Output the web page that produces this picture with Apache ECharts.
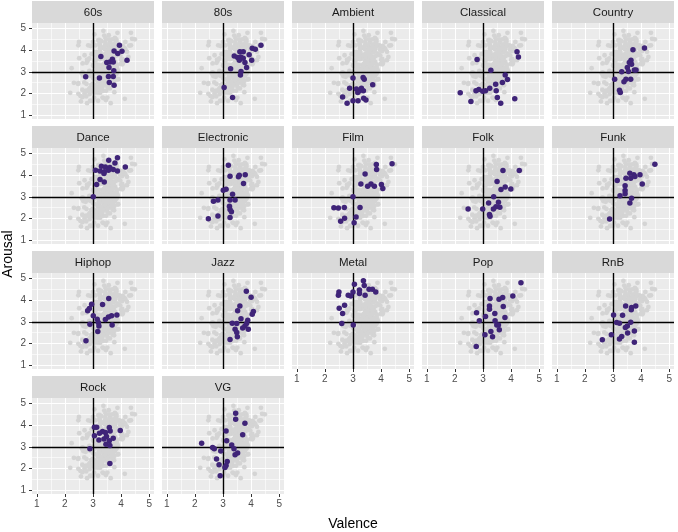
<!DOCTYPE html>
<html>
<head>
<meta charset="utf-8">
<script src="https://cdn.jsdelivr.net/npm/echarts@6/dist/echarts.min.js"></script>
<style>
html,body{margin:0;padding:0;background:#fff;}
#chart{width:678px;height:532px;}
</style>
</head>
<body>
<div id="chart"></div>
<script>
// ---------------- data (valence, arousal) ----------------
const genres = ["60s","80s","Ambient","Classical","Country","Dance","Electronic","Film","Folk","Funk","Hiphop","Jazz","Metal","Pop","RnB","Rock","VG"];

const d60s = [[3.94,4.23],[3.28,3.71],[3.75,3.97],[3.88,3.85],[4.03,3.96],[4.21,3.54],[3.49,3.43],[3.60,3.46],[3.69,3.59],[3.72,3.46],[3.57,3.20],[3.74,3.05],[2.74,2.77],[3.23,2.71],[3.55,2.78],[3.72,2.78],[3.58,2.51],[3.75,2.38]];
const d80s = [[4.35,4.23],[4.04,4.10],[4.15,4.05],[3.60,3.93],[3.72,3.93],[3.40,3.74],[3.52,3.66],[3.63,3.69],[3.72,3.63],[3.93,3.79],[3.78,3.43],[4.02,3.54],[3.84,3.20],[3.27,3.14],[3.64,3.02],[3.62,2.86],[3.04,2.27],[3.34,1.81],[3.58,3.54]];
const dAmbient = [[3.00,2.71],[3.36,2.74],[3.40,2.66],[3.70,2.40],[2.88,2.24],[3.12,2.20],[3.22,2.12],[3.37,2.12],[3.17,2.04],[2.63,1.83],[2.79,1.55],[3.00,1.66],[3.18,1.66],[3.38,1.78],[3.46,1.69],[3.30,2.24]];
const dClassical = [[4.21,3.93],[4.26,3.69],[2.79,3.57],[3.28,3.08],[3.79,2.86],[3.87,2.65],[3.69,2.51],[3.45,2.43],[3.24,2.24],[2.85,2.18],[2.75,2.12],[2.99,2.10],[3.09,2.12],[3.47,2.12],[2.19,2.03],[3.51,1.81],[4.13,1.75],[2.57,1.63],[3.63,1.55]];
const dCountry = [[4.12,4.11],[3.71,4.02],[3.64,3.54],[3.58,3.43],[3.66,3.35],[3.51,3.20],[3.76,3.09],[3.82,3.09],[3.31,3.00],[3.55,3.02],[3.06,2.66],[3.46,2.66],[3.63,2.66],[3.39,2.54],[3.23,2.15],[3.26,2.04]];
const dDance = [[3.87,4.81],[3.56,4.70],[3.78,4.57],[3.30,4.42],[3.44,4.39],[4.15,4.39],[3.60,4.36],[3.09,4.23],[3.25,4.20],[3.40,4.16],[3.55,4.23],[3.72,4.27],[3.87,4.20],[3.39,4.08],[3.25,3.80],[3.40,3.69],[3.13,3.57],[3.01,3.00]];
const dElectronic = [[3.19,4.47],[3.25,3.96],[3.55,3.93],[3.79,4.03],[3.58,4.00],[3.73,3.62],[3.11,3.35],[3.01,3.31],[3.34,3.12],[2.66,2.80],[2.82,2.85],[3.25,2.85],[3.43,2.85],[3.23,2.57],[3.25,2.41],[3.30,2.31],[2.82,2.11],[2.48,1.98],[3.25,2.04]];
const dFilm = [[4.39,4.53],[3.83,4.50],[3.84,4.27],[3.43,4.06],[3.28,3.60],[3.52,3.49],[3.64,3.60],[3.76,3.49],[4.01,3.57],[4.06,3.39],[3.00,3.00],[2.32,2.49],[2.48,2.48],[2.69,2.51],[3.25,2.51],[2.70,2.01],[2.56,1.87],[3.11,2.07],[3.04,1.80]];
const dFolk = [[3.71,4.22],[4.29,4.22],[3.50,3.71],[3.64,3.34],[3.79,3.46],[3.99,3.37],[3.38,3.00],[3.20,2.72],[3.55,2.75],[3.46,2.54],[3.60,2.52],[3.37,2.44],[2.99,2.44],[2.47,2.44],[3.23,2.18],[3.25,2.10]];
const dFunk = [[4.49,4.51],[3.60,4.10],[3.74,4.02],[3.96,4.02],[3.46,3.86],[3.63,3.86],[3.78,3.94],[3.15,3.76],[4.04,3.60],[3.43,3.52],[3.43,3.29],[3.43,3.14],[3.25,3.05],[3.66,2.94],[3.60,2.71],[2.88,1.97]];
const dHiphop = [[3.56,4.08],[2.95,3.82],[3.34,3.80],[2.87,3.62],[2.81,3.51],[3.01,3.28],[3.85,3.32],[3.66,3.28],[3.55,3.23],[3.44,3.11],[3.15,3.12],[3.19,2.97],[2.89,2.89],[3.21,2.81],[3.68,2.86],[3.17,2.55],[2.75,2.12]];
const dJazz = [[3.83,4.42],[4.00,4.14],[3.60,3.74],[3.52,3.51],[4.08,3.48],[4.04,3.35],[3.64,3.15],[3.88,3.08],[3.33,2.94],[3.49,2.92],[3.84,2.92],[3.78,2.81],[3.43,2.66],[3.70,2.71],[3.90,2.66],[3.49,2.51],[3.51,2.31],[3.25,2.18]];
const dMetal = [[3.37,4.90],[3.05,4.74],[3.40,4.68],[3.57,4.51],[3.69,4.51],[3.81,4.39],[3.23,4.48],[3.23,4.31],[3.00,4.39],[3.43,4.23],[2.50,4.39],[2.48,4.23],[2.83,4.23],[2.92,4.20],[2.70,3.77],[2.51,3.63],[2.63,3.39],[2.60,2.92],[3.01,2.85]];
const dPop = [[4.35,4.81],[4.06,4.20],[3.25,4.08],[3.57,4.05],[3.70,4.13],[3.23,3.74],[3.23,3.59],[3.72,3.71],[2.77,3.42],[3.09,3.25],[3.42,3.39],[3.78,3.20],[2.87,3.05],[3.43,3.05],[3.49,2.86],[3.55,2.86],[3.58,2.63],[3.28,2.55],[3.07,2.40],[3.34,2.31],[2.76,1.86]];
const dRnB = [[3.45,3.73],[3.81,3.73],[3.66,3.66],[3.65,3.56],[3.34,3.31],[3.02,3.32],[3.13,2.97],[3.23,2.94],[3.63,2.98],[3.51,2.81],[3.44,2.74],[3.76,2.58],[3.52,2.48],[2.94,2.40],[3.31,2.32],[3.23,2.20],[2.62,2.17],[3.76,2.06]];
const dRock = [[3.05,3.91],[3.13,3.91],[3.58,3.90],[3.97,3.76],[3.34,3.71],[3.44,3.66],[3.23,3.63],[3.61,3.74],[3.05,3.52],[3.48,3.48],[3.72,3.40],[3.21,3.32],[3.39,3.37],[3.58,3.28],[3.46,3.12],[3.60,3.06],[2.89,2.91],[3.60,2.23]];
const dVG = [[3.45,4.56],[3.45,4.28],[3.78,4.10],[3.11,3.74],[3.70,3.56],[3.13,3.28],[2.24,3.17],[3.31,3.09],[2.63,2.97],[2.69,2.91],[3.39,2.91],[2.92,2.81],[3.52,2.71],[3.43,2.63],[3.15,2.32],[2.77,2.44],[2.86,2.17],[3.11,2.14],[3.07,2.04],[2.90,1.66]];

const genreData = [d60s,d80s,dAmbient,dClassical,dCountry,dDance,dElectronic,dFilm,dFolk,dFunk,dHiphop,dJazz,dMetal,dPop,dRnB,dRock,dVG];

const tickValues = [1,2,3,4,5];
const minorBreaks = [1.5,2.5,3.5,4.5];
const refValence = 3;
const refArousal = 3;

// ---------------- layout ----------------
const NCOL = 5;
const PANEL_W = 122, PANEL_H = 96, STRIP_H = 22;
const COL_PITCH = 130, ROW_PITCH = 125;
const LEFT0 = 32, TOP0 = 1;
const X_MIN = 0.83, X_MAX = 5.17, Y_MIN = 0.815, Y_MAX = 5.265;
const PURPLE = '#3f2478';
const GREY = '#d4d4d4';
const FONT = '"Liberation Sans", Arial, Helvetica, sans-serif';

const allPoints = [].concat(...genreData);

const grids = [], xAxes = [], yAxes = [], series = [], graphics = [];

genres.forEach((g, i) => {
  const r = Math.floor(i / NCOL), c = i % NCOL;
  const left = LEFT0 + c * COL_PITCH;
  const stripTop = TOP0 + r * ROW_PITCH;
  const top = stripTop + STRIP_H;
  grids.push({left: left, top: top, width: PANEL_W, height: PANEL_H, show: true, backgroundColor: '#ebebeb', borderWidth: 0, containLabel: false, z: 0});
  const showX = i + NCOL >= genres.length;
  const showY = c === 0;
  xAxes.push({
    gridIndex: i, type: 'value', min: X_MIN, max: X_MAX,
    axisLine: {show: false}, splitLine: {show: false},
    axisTick: {show: showX, customValues: tickValues, length: 3, lineStyle: {color: '#333333', width: 1}},
    axisLabel: {show: showX, customValues: tickValues, color: '#4d4d4d', fontSize: 10, margin: 5, fontFamily: FONT}
  });
  yAxes.push({
    gridIndex: i, type: 'value', min: Y_MIN, max: Y_MAX,
    axisLine: {show: false}, splitLine: {show: false},
    axisTick: {show: showY, customValues: tickValues, length: 3, lineStyle: {color: '#333333', width: 1}},
    axisLabel: {show: showY, customValues: tickValues, color: '#4d4d4d', fontSize: 10, margin: 6, fontFamily: FONT}
  });
  // grid lines
  const gl = [];
  minorBreaks.forEach(v => { gl.push({xAxis: v, lineStyle: {color: '#ffffff', width: 0.6, type: 'solid'}}); gl.push({yAxis: v, lineStyle: {color: '#ffffff', width: 0.6, type: 'solid'}}); });
  tickValues.forEach(v => { gl.push({xAxis: v, lineStyle: {color: '#ffffff', width: 1.1, type: 'solid'}}); gl.push({yAxis: v, lineStyle: {color: '#ffffff', width: 1.1, type: 'solid'}}); });
  series.push({
    type: 'scatter', xAxisIndex: i, yAxisIndex: i, data: [], z: 1, silent: true,
    markLine: {z: 1, silent: true, symbol: ['none','none'], label: {show: false}, animation: false, data: gl}
  });
  series.push({
    type: 'scatter', xAxisIndex: i, yAxisIndex: i, data: allPoints, z: 2, silent: true,
    symbolSize: 4.8, itemStyle: {color: GREY, opacity: 1}
  });
  series.push({
    type: 'scatter', xAxisIndex: i, yAxisIndex: i, data: [], z: 3, silent: true,
    markLine: {z: 3, silent: true, symbol: ['none','none'], label: {show: false}, animation: false,
      lineStyle: {color: '#000000', width: 1.4, type: 'solid'},
      data: [{xAxis: refValence}, {yAxis: refArousal}]}
  });
  series.push({
    type: 'scatter', xAxisIndex: i, yAxisIndex: i, data: genreData[i], z: 4, silent: true,
    symbolSize: 5.5, itemStyle: {color: PURPLE, opacity: 1}
  });
  graphics.push({type: 'rect', left: left, top: stripTop, shape: {width: PANEL_W, height: STRIP_H}, style: {fill: '#d9d9d9'}, silent: true});
  graphics.push({type: 'text', x: left + PANEL_W / 2, y: stripTop + STRIP_H / 2 + 0.5, style: {text: g, fill: '#1a1a1a', font: '11.5px ' + FONT, textAlign: 'center', textVerticalAlign: 'middle'}, silent: true});
});

graphics.push({type: 'text', x: 353, y: 524, style: {text: 'Valence', fill: '#000000', font: '14px ' + FONT, textAlign: 'center', textVerticalAlign: 'middle'}, silent: true});
graphics.push({type: 'text', x: 8, y: 254, rotation: Math.PI / 2, style: {text: 'Arousal', fill: '#000000', font: '14px ' + FONT, textAlign: 'center', textVerticalAlign: 'middle'}, silent: true});

const chart = echarts.init(document.getElementById('chart'), null, {renderer: 'canvas'});
chart.setOption({
  animation: false,
  backgroundColor: '#ffffff',
  grid: grids, xAxis: xAxes, yAxis: yAxes, series: series, graphic: graphics
});
</script>
</body>
</html>
